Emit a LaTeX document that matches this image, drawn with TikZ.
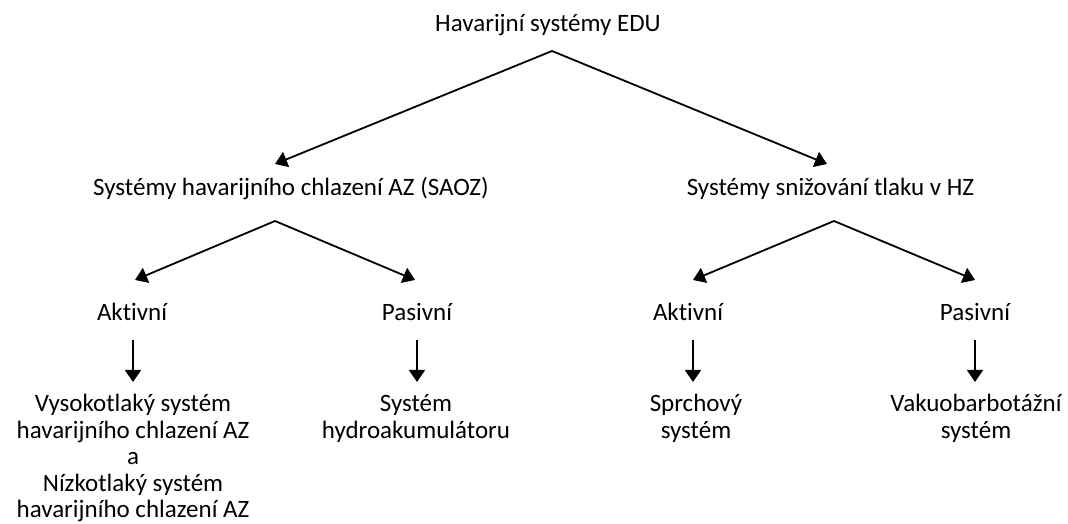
\documentclass[tikz,border=0pt]{standalone}
\usepackage{fontspec}
\setmainfont[Ligatures={NoCommon}]{Carlito}
\usetikzlibrary{arrows.meta}
\begin{document}
\begin{tikzpicture}[x=1pt,y=1pt,
  every node/.style={font=\fontsize{25}{26.5}\selectfont, inner sep=0pt, outer sep=0pt},
  titlebox/.style={anchor=base, text depth=19pt},
  lvlone/.style={anchor=base, text height=32pt, text depth=25pt},
  lvltwo/.style={anchor=base, text height=41pt, text depth=19pt},
  leafbox/.style={anchor=north, align=center},
  arr/.style={line width=1.8pt, -{Triangle[length=12pt,width=16pt]}}]
\useasboundingbox (0,0) rectangle (1068,524);
\node[titlebox] (root) at (548,492) {Havarijní systémy EDU};
\node[lvlone] (saoz) at (291,328) {Systémy havarijního chlazení AZ (SAOZ)};
\node[lvlone] (snz) at (830.5,328) {Systémy snižování tlaku v HZ};
\node[lvltwo] (akt1) at (132,203) {Aktivní};
\node[lvltwo] (pas1) at (417,203) {Pasivní};
\node[lvltwo] (akt2) at (688,203) {Aktivní};
\node[lvltwo] (pas2) at (975,203) {Pasivní};
\node[leafbox] (vys) at (133,142) {\rule{0pt}{30pt}Vysokotlaký systém\\havarijního chlazení AZ\\a\\Nízkotlaký systém\\havarijního chlazení AZ};
\node[leafbox] (hyd) at (416,142) {\rule{0pt}{30pt}Systém\\hydroakumulátoru};
\node[leafbox] (spr) at (696,142) {\rule{0pt}{30pt}Sprchový\\systém};
\node[leafbox] (vak) at (976,142) {\rule{0pt}{30pt}Vakuobarbotážní\\systém};
\draw[arr] ([xshift=4pt]root.south) -- ([xshift=-16pt]saoz.north);
\draw[arr] ([xshift=4pt]root.south) -- ([xshift=-3.5pt]snz.north);
\draw[arr] ([xshift=-16pt]saoz.south) -- ([xshift=3pt]akt1.north);
\draw[arr] ([xshift=-16pt]saoz.south) -- ([xshift=-2pt]pas1.north);
\draw[arr] ([xshift=3.5pt]snz.south) -- ([xshift=5pt]akt2.north);
\draw[arr] ([xshift=3.5pt]snz.south) -- (pas2.north);
\draw[arr] ([xshift=1pt]akt1.south) -- ([xshift=1pt]akt1.south |- vys.north);
\draw[arr] (pas1.south) -- (pas1.south |- hyd.north);
\draw[arr] ([xshift=5pt]akt2.south) -- ([xshift=5pt]akt2.south |- spr.north);
\draw[arr] (pas2.south) -- (pas2.south |- vak.north);
\end{tikzpicture}
\end{document}
